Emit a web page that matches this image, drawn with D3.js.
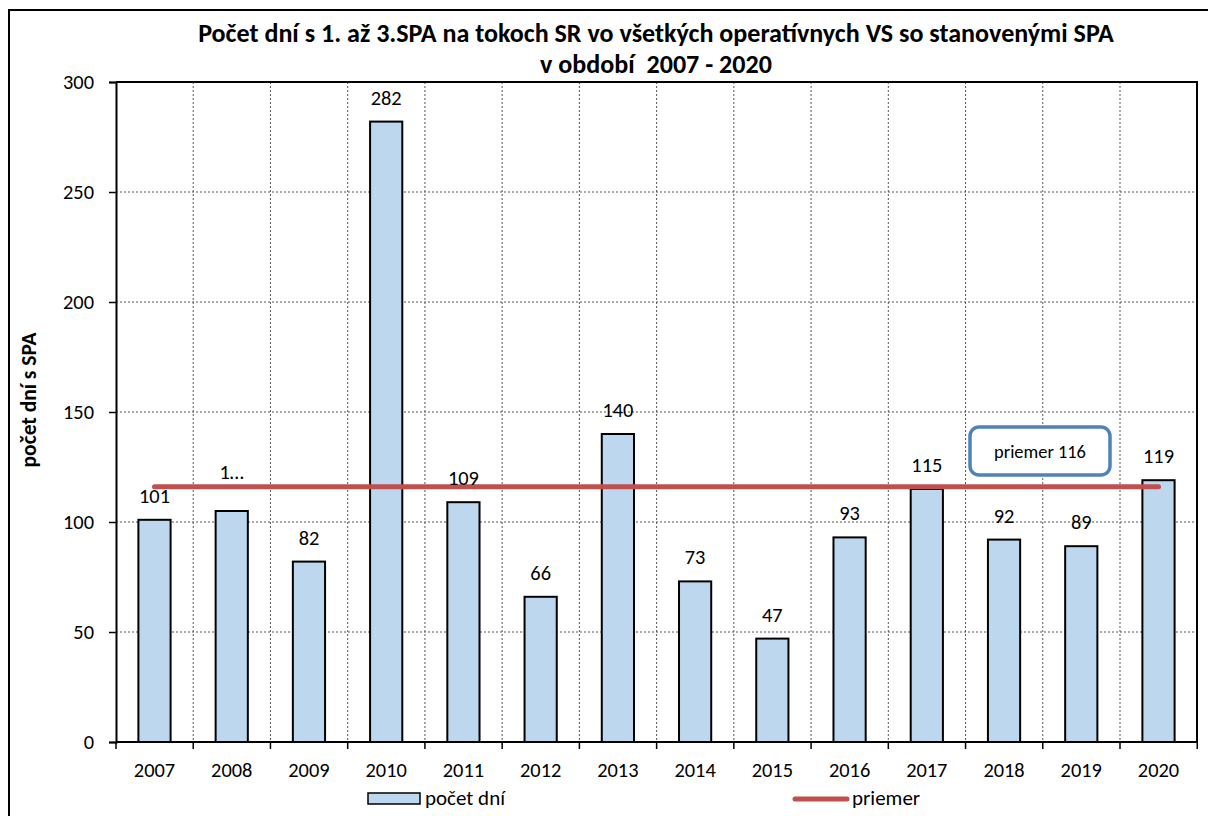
<!DOCTYPE html>
<html>
<head>
<meta charset="utf-8">
<script src="https://cdn.jsdelivr.net/npm/d3@7"></script>
<style>
  body { margin: 0; background: #fff; }
  svg { display: block; font-family: Carlito, Calibri, "Noto Sans", sans-serif; }
</style>
</head>
<body>
<div id="chart"></div>
<script>
const width = 1208, height = 816;

// data
const years = ["2007", "2008", "2009", "2010", "2011", "2012", "2013",
  "2014", "2015", "2016", "2017", "2018", "2019", "2020"];
const days = [101, 105, 82, 282, 109, 66, 140, 73, 47, 93, 115, 92, 89, 119];
const labels = ["101", "1…", "82", "282", "109", "66", "140", "73", "47", "93", "115", "92", "89", "119"];
const average = 116;
const yTicks = [0, 50, 100, 150, 200, 250, 300];

const titleLines = [
  "Počet dní s 1. až 3.SPA na tokoch SR vo všetkých operatívnych VS so stanovenými SPA",
  "v období  2007 - 2020"
];

const plot = { left: 116, top: 82, right: 1197, bottom: 742 };

let svg = d3.select("#chart").append("svg")
  .attr("width", width)
  .attr("height", height);

// font size that makes `str` come out `target` px wide
function fitSize(str, target, bold) {
  let probe = svg.append("text")
    .attr("font-size", 100)
    .attr("font-weight", bold ? "bold" : "normal")
    .text(str);
  let w = probe.node().getComputedTextLength();
  probe.remove();
  return 100 * target / w;
}

const numSize = fitSize("000", 31);

// outer chart frame (runs off the right / bottom edge)
svg.append("rect")
  .attr("x", 9).attr("y", 10)
  .attr("width", width + 20).attr("height", height + 20)
  .attr("fill", "#fff")
  .attr("stroke", "#000")
  .attr("stroke-width", 2);

let x = d3.scaleBand()
  .domain(years)
  .range([plot.left, plot.right])
  .paddingInner(0.583)
  .paddingOuter(0.29);

let y = d3.scaleLinear()
  .domain([0, 300])
  .range([plot.bottom, plot.top]);

let step = x.step();
let bandStart = (i) => plot.left + i * step;

// gridlines
let grid = svg.append("g").attr("id", "grid");
grid.selectAll("line.h")
  .data(yTicks.filter((d) => d > 0 && d < 300))
  .join("line")
  .attr("class", "h")
  .attr("x1", plot.left).attr("x2", plot.right)
  .attr("y1", (d) => y(d)).attr("y2", (d) => y(d))
  .attr("stroke", "#555")
  .attr("stroke-width", 1)
  .attr("stroke-dasharray", "2,2");

grid.selectAll("line.v")
  .data(d3.range(1, years.length))
  .join("line")
  .attr("class", "v")
  .attr("x1", (i) => bandStart(i)).attr("x2", (i) => bandStart(i))
  .attr("y1", plot.top).attr("y2", plot.bottom)
  .attr("stroke", "#555")
  .attr("stroke-width", 1)
  .attr("stroke-dasharray", "2,2");

// plot area border top / right
svg.append("path")
  .attr("d", `M${plot.left},${plot.top}H${plot.right}V${plot.bottom}`)
  .attr("fill", "none")
  .attr("stroke", "#000")
  .attr("stroke-width", 2);

// bars
svg.append("g").attr("id", "bars")
  .selectAll("rect")
  .data(days)
  .join("rect")
  .attr("x", (d, i) => x(years[i]))
  .attr("y", (d) => y(d))
  .attr("width", x.bandwidth())
  .attr("height", (d) => y(0) - y(d))
  .attr("fill", "#bdd7ee")
  .attr("stroke", "#000")
  .attr("stroke-width", 2);

// y axis
let yAxis = svg.append("g")
  .attr("transform", `translate(${plot.left},0)`)
  .call(d3.axisLeft(y).tickValues(yTicks).tickSize(7).tickPadding(15));
yAxis.attr("font-family", null).attr("font-size", null);
yAxis.select(".domain").attr("stroke-width", 2);
yAxis.selectAll(".tick line").attr("stroke-width", 1.5);
yAxis.selectAll(".tick text")
  .attr("font-size", numSize)
  .attr("fill", "#000");

// x axis: ticks between categories
let xAxis = svg.append("g")
  .attr("transform", `translate(0,${plot.bottom})`);
xAxis.append("line")
  .attr("x1", plot.left).attr("x2", plot.right)
  .attr("stroke", "#000").attr("stroke-width", 2);
xAxis.selectAll("line.tick")
  .data(d3.range(0, years.length + 1))
  .join("line")
  .attr("class", "tick")
  .attr("x1", (i) => bandStart(i)).attr("x2", (i) => bandStart(i))
  .attr("y1", 0).attr("y2", 7)
  .attr("stroke", "#000").attr("stroke-width", 1.5);
xAxis.selectAll("text")
  .data(years)
  .join("text")
  .attr("x", (d) => x(d) + x.bandwidth() / 2)
  .attr("y", 35)
  .attr("text-anchor", "middle")
  .attr("font-size", numSize)
  .text((d) => d);

// average line
let avgY = y(average);
svg.append("line")
  .attr("x1", x(years[0]) + x.bandwidth() / 2)
  .attr("x2", x(years[years.length - 1]) + x.bandwidth() / 2)
  .attr("y1", avgY).attr("y2", avgY)
  .attr("stroke", "#c0504d")
  .attr("stroke-width", 5)
  .attr("stroke-linecap", "round");

// value labels (2008 label pushed up above the average line)
svg.append("g").attr("id", "values")
  .selectAll("text")
  .data(days)
  .join("text")
  .attr("x", (d, i) => x(years[i]) + x.bandwidth() / 2)
  .attr("y", (d, i) => y(d) - (i === 1 ? 32 : 17))
  .attr("text-anchor", "middle")
  .attr("font-size", numSize)
  .text((d, i) => labels[i]);

// annotation box
let note = svg.append("g").attr("transform", "translate(970,427)");
note.append("rect")
  .attr("width", 140).attr("height", 48)
  .attr("rx", 9)
  .attr("fill", "#fff")
  .attr("stroke", "#4f81bd")
  .attr("stroke-width", 3.5);
note.append("text")
  .attr("x", 70).attr("y", 31)
  .attr("text-anchor", "middle")
  .attr("font-size", fitSize("priemer 116", 92))
  .text("priemer " + average);

// title, fitted to the reference width
let titleSize = fitSize(titleLines[0], 916, true);
let title = svg.append("g").attr("font-weight", "bold").attr("fill", "#000");
title.append("text")
  .attr("x", 656).attr("y", 42)
  .attr("text-anchor", "middle")
  .attr("font-size", titleSize)
  .text(titleLines[0]);
title.append("text")
  .attr("x", 656).attr("y", 73)
  .attr("text-anchor", "middle")
  .attr("font-size", titleSize)
  .style("white-space", "pre")
  .text(titleLines[1]);

// y axis title
svg.append("text")
  .attr("transform", "translate(36,400) rotate(-90)")
  .attr("text-anchor", "middle")
  .attr("font-weight", "bold")
  .attr("font-size", fitSize("počet dní s SPA", 135, true))
  .text("počet dní s SPA");

// legend
const legendSize = fitSize("počet dní", 80);
let legend = svg.append("g");
legend.append("rect")
  .attr("x", 368).attr("y", 793)
  .attr("width", 52).attr("height", 11)
  .attr("fill", "#bdd7ee")
  .attr("stroke", "#000")
  .attr("stroke-width", 1.5);
legend.append("text")
  .attr("x", 425).attr("y", 805)
  .attr("font-size", legendSize)
  .text("počet dní");
legend.append("line")
  .attr("x1", 795).attr("x2", 847)
  .attr("y1", 799).attr("y2", 799)
  .attr("stroke", "#c0504d")
  .attr("stroke-width", 5)
  .attr("stroke-linecap", "round");
legend.append("text")
  .attr("x", 852).attr("y", 805)
  .attr("font-size", legendSize)
  .text("priemer");
</script>
</body>
</html>
